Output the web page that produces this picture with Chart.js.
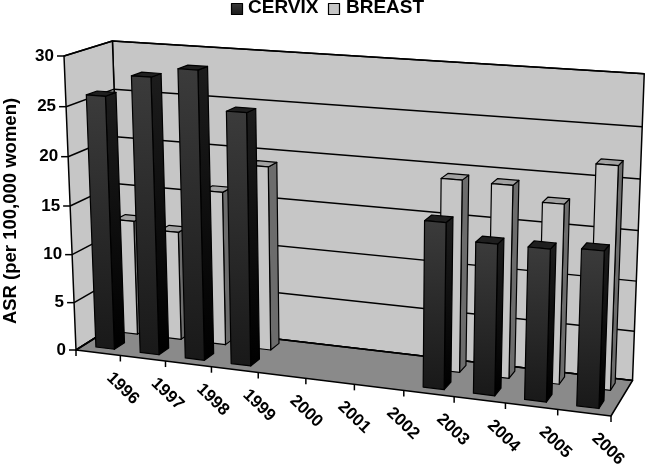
<!DOCTYPE html>
<html>
<head>
<meta charset="utf-8">
<style>
  html, body { margin: 0; padding: 0; background: #fff; }
</style>
<script src="https://cdn.jsdelivr.net/npm/chart.js@4"></script>
</head>
<body>
<canvas id="chart" width="648" height="466"></canvas>
<script>
const years = ['1996','1997','1998','1999','2000','2001','2002','2003','2004','2005','2006'];
const cervix = [26, 28.2, 29.2, 25.4, null, null, null, 16.4, 14.8, 14.8, 15.1];
const breast = [12.1, 11.4, 16, 19, null, null, null, 19.3, 19.2, 17.8, 21.9];

// depth slots of the two series on the floor, 0 = front edge, 1 = back wall
const depthSlots = [[0.15, 0.37], [0.66, 0.88]];

// perspective frame: floor corners and the left front top corner, plus weights
const O = [76, 350], X = [611, 416], Y = [64, 56], Z = [122, 321];
const wx = 0.904, wy = 0.96, wz = 1.052;

function project(u, v, w) {
    const d = 1 - u - v - w;
    const W = d + wx * u + wy * v + wz * w;
    return [
        (O[0] * d + wx * u * X[0] + wy * v * Y[0] + wz * w * Z[0]) / W,
        (O[1] * d + wx * u * X[1] + wy * v * Y[1] + wz * w * Z[1]) / W
    ];
}

function poly(ctx, pts, fill) {
    ctx.beginPath();
    pts.forEach((p, i) => i ? ctx.lineTo(p[0], p[1]) : ctx.moveTo(p[0], p[1]));
    ctx.closePath();
    if (fill) {
        ctx.fillStyle = fill;
        ctx.fill();
    }
    ctx.stroke();
}

function line(ctx, a, b) {
    ctx.beginPath();
    ctx.moveTo(a[0], a[1]);
    ctx.lineTo(b[0], b[1]);
    ctx.stroke();
}

function vGradient(ctx, y0, y1, c0, c1) {
    const g = ctx.createLinearGradient(0, y0, 0, y1);
    g.addColorStop(0, c0);
    g.addColorStop(1, c1);
    return g;
}

const styles = [
    { front: ['#3b3b3b', '#191919'], side: ['#1c1c1c', '#000000'], top: '#1f1f1f' },
    { front: ['#c6c6c6', '#c6c6c6'], side: ['#6c6c6c', '#6c6c6c'], top: '#a2a2a2' }
];

const frame3d = {
    id: 'frame3d',
    beforeDatasetsDraw(chart) {
        const { ctx, chartArea: a, scales: { x, y } } = chart;
        const toU = px => (px - a.left) / (a.right - a.left);
        const toV = py => (a.bottom - py) / (a.bottom - a.top);

        ctx.save();
        ctx.strokeStyle = '#000';
        ctx.lineWidth = 1.5;
        ctx.lineJoin = 'round';

        // walls and floor
        poly(ctx, [project(0,0,1), project(1,0,1), project(1,1,1), project(0,1,1)], '#c6c6c6');
        poly(ctx, [project(0,0,0), project(0,0,1), project(0,1,1), project(0,1,0)], '#c6c6c6');
        poly(ctx, [project(0,0,0), project(1,0,0), project(1,0,1), project(0,0,1)], '#8a8a8a');

        // value gridlines and labels
        ctx.font = 'bold 17px "Liberation Sans", Arial, sans-serif';
        ctx.textAlign = 'right';
        ctx.textBaseline = 'middle';
        ctx.fillStyle = '#000';
        y.ticks.forEach(t => {
            const v = toV(y.getPixelForValue(t.value));
            const p = project(0, v, 0);
            line(ctx, project(1, v, 1), project(0, v, 1));
            line(ctx, project(0, v, 1), p);
            line(ctx, p, [p[0] - 7, p[1]]);
            ctx.fillText(t.label, p[0] - 10, p[1]);
        });

        // category ticks and slanted labels
        const step = (a.right - a.left) / years.length;
        line(ctx, project(0, 0, 0), [O[0], O[1] + 6]);
        x.ticks.forEach((t, i) => {
            const u = toU(x.getPixelForTick(i) + step / 2);
            const p = project(u, 0, 0);
            line(ctx, p, [p[0], p[1] + 6]);
            ctx.save();
            ctx.translate(p[0] + 3 - 6 * u, p[1] + 33);
            ctx.rotate(44 * Math.PI / 180);
            ctx.textAlign = 'center';
            ctx.fillText(t.label, 0, 0);
            ctx.restore();
        });

        // bars, back row first
        ctx.lineWidth = 1.2;
        for (let s = chart.data.datasets.length - 1; s >= 0; s--) {
            const st = styles[s];
            const [w0, w1] = depthSlots[s];
            chart.getDatasetMeta(s).data.forEach((bar, i) => {
                if (chart.data.datasets[s].data[i] == null) return;
                const u0 = toU(bar.x - bar.width / 2), u1 = toU(bar.x + bar.width / 2);
                const v0 = toV(bar.base), v1 = toV(bar.y);
                const fb = project(u0, v0, w0), ft = project(u0, v1, w0);
                poly(ctx, [project(u1, v0, w0), project(u1, v0, w1), project(u1, v1, w1), project(u1, v1, w0)],
                    vGradient(ctx, ft[1], fb[1], st.side[0], st.side[1]));
                poly(ctx, [ft, project(u1, v1, w0), project(u1, v1, w1), project(u0, v1, w1)], st.top);
                poly(ctx, [fb, project(u1, v0, w0), project(u1, v1, w0), ft],
                    vGradient(ctx, ft[1], fb[1], st.front[0], st.front[1]));
            });
        }

        // legend
        ctx.font = 'bold 19px "Liberation Sans", Arial, sans-serif';
        ctx.textAlign = 'left';
        ctx.lineWidth = 1.2;
        [[231, 248], [328, 346]].forEach((pos, s) => {
            ctx.beginPath();
            ctx.rect(pos[0] + 0.5, 3.5, 11, 11);
            ctx.fillStyle = vGradient(ctx, 3, 15, styles[s].front[0], styles[s].front[1]);
            ctx.fill();
            ctx.stroke();
            ctx.fillStyle = '#000';
            ctx.fillText(chart.data.datasets[s].label, pos[1], 8);
        });

        ctx.restore();
        return false;
    }
};

new Chart(document.getElementById('chart').getContext('2d'), {
    type: 'bar',
    data: {
        labels: years,
        datasets: [
            { label: 'CERVIX', data: cervix, backgroundColor: '#2a2a2a' },
            { label: 'BREAST', data: breast, backgroundColor: '#c6c6c6' }
        ]
    },
    options: {
        responsive: false,
        animation: false,
        layout: { padding: { left: 0, top: 56, right: 30, bottom: 100 } },
        datasets: { bar: { grouped: false, barPercentage: 0.42, categoryPercentage: 1 } },
        plugins: { legend: { display: false }, tooltip: { enabled: false } },
        scales: {
            x: { display: false },
            y: {
                min: 0,
                max: 30,
                ticks: { stepSize: 5, display: false },
                grid: { display: false },
                border: { display: false },
                title: {
                    display: true,
                    text: 'ASR (per 100,000 women)',
                    color: '#000',
                    font: { family: '"Liberation Sans", Arial, sans-serif', size: 18.5, weight: 'bold' },
                    padding: 0
                }
            }
        }
    },
    plugins: [frame3d]
});
</script>
</body>
</html>
